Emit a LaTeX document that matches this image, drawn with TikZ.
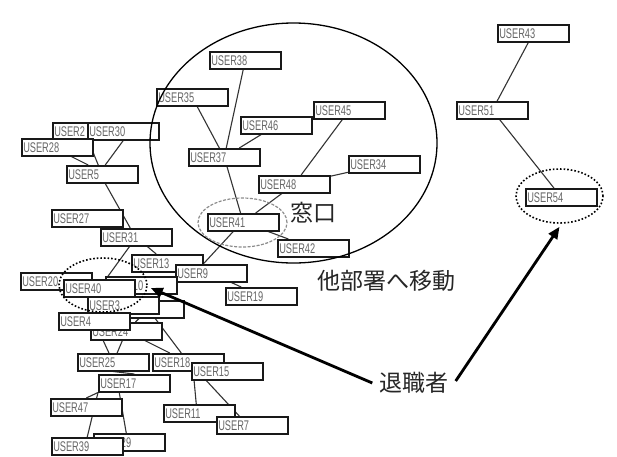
\documentclass[tikz,border=0pt]{standalone}
\usepackage{fontspec}
\setmainfont{Liberation Sans}
\newfontfamily\jpfont{Noto Sans CJK JP}
\usetikzlibrary{shapes.geometric,arrows.meta}
\pgfdeclarelayer{back}
\pgfdeclarelayer{bg}
\pgfsetlayers{back,bg,main}
\newcommand\ulab[1]{\scalebox{0.66}[1]{\fontsize{14}{14}\selectfont #1}}
\begin{document}
\begin{tikzpicture}[x=1pt,y=-1pt,
  ubox/.style={draw=black!90, line width=1.5pt, fill=white, anchor=north west,
    text width=68pt, inner xsep=1.5pt, inner ysep=0pt, minimum height=17pt,
    text=black!60, align=left},
  edge/.style={draw=black!80, line width=1.1pt},
  jp/.style={font=\jpfont\fontsize{23}{23}\selectfont, text=black!85, inner sep=1pt},
  dotring/.style={ellipse, draw=black, line width=1.6pt, dash pattern=on 1.6pt off 2pt, inner sep=0pt},
  bigarrow/.style={line width=2.8pt, -{Triangle[length=12pt,width=10pt]}}]
\useasboundingbox (0,0) rectangle (617,456);
\begin{pgfonlayer}{back}
\fill[white] (0,0) rectangle (617,456);
\end{pgfonlayer}

% boxes
\node[ubox] (u38) at (209,51) {\ulab{USER38}};
\node[ubox] (u35) at (156,88) {\ulab{USER35}};
\node[ubox] (u45) at (313,101) {\ulab{USER45}};
\node[ubox] (u46) at (240,116) {\ulab{USER46}};
\node[ubox] (u37) at (188,148) {\ulab{USER37}};
\node[ubox] (u34) at (348,155) {\ulab{USER34}};
\node[ubox] (u48) at (258,175) {\ulab{USER48}};
\node[ubox] (u41) at (207,213) {\ulab{USER41}};
\node[ubox] (u42) at (277,239) {\ulab{USER42}};
\node[ubox] (u43) at (497,24) {\ulab{USER43}};
\node[ubox] (u51) at (456,101) {\ulab{USER51}};
\node[ubox] (u54) at (525,188) {\ulab{USER54}};
\node[ubox] (u2) at (52,122) {\ulab{USER2}};
\node[ubox] (u30) at (87,122) {\ulab{USER30}};
\node[ubox] (u28) at (21,138) {\ulab{USER28}};
\node[ubox] (u5) at (66,165) {\ulab{USER5}};
\node[ubox] (u27) at (51,209) {\ulab{USER27}};
\node[ubox] (u31) at (100,228) {\ulab{USER31}};
\node[ubox] (u13) at (131,254) {\ulab{USER13}};
\node[ubox] (u9) at (175,264) {\ulab{USER9}};
\node[ubox] (u19) at (225,287) {\ulab{USER19}};
\node[ubox] (u20) at (20,272) {\ulab{USER20}};
\node[ubox] (u10) at (105,276) {\ulab{USER10}};
\node[ubox] (u40) at (63,279) {\ulab{USER40}};
\node[ubox] (u26) at (112,300) {};
\node[ubox] (u3) at (87,296) {\ulab{USER3}};
\node[ubox] (u24) at (90,322) {\ulab{USER24}};
\node[ubox] (u4) at (58,312) {\ulab{USER4}};
\node[ubox] (u25) at (77,353) {\ulab{USER25}};
\node[ubox] (u18) at (152,353) {\ulab{USER18}};
\node[ubox] (u15) at (191,362) {\ulab{USER15}};
\node[ubox] (u17) at (98,374) {\ulab{USER17}};
\node[ubox] (u47) at (50,398) {\ulab{USER47}};
\node[ubox] (u11) at (163,404) {\ulab{USER11}};
\node[ubox] (u7) at (216,416) {\ulab{USER7}};
\node[ubox] (u29) at (93,433) {\ulab{USER29}};
\node[ubox] (u39) at (51,437) {\ulab{USER39}};

% connectors
\begin{pgfonlayer}{bg}
\draw[edge] (u2.south) -- ([xshift=-4pt]u5.north);
\draw[edge] (u30.south) -- ([xshift=3pt]u5.north);
\draw[edge] ([xshift=14pt]u28.south) -- ([xshift=-14pt]u5.north);
\draw[edge] ([xshift=3pt]u5.south) -- ([xshift=-6pt]u31.north);
\draw[edge] (u31) -- (u40);
\draw[edge] (u31) -- (u13);
\draw[edge] ([xshift=-10pt]u41.south) -- ([xshift=-8pt]u9.north);
\draw[edge] (u9) -- (u19);
\draw[edge] (u37) -- (u38);
\draw[edge] (u37) -- (u35);
\draw[edge] (u37) -- (u46);
\draw[edge] (u37) -- (u41);
\draw[edge] (u48) -- (u41);
\draw[edge] (u48) -- (u45);
\draw[edge] (u48) -- (u34);
\draw[edge] (u41) -- (u42);
\draw[edge] (u43) -- (u51);
\draw[edge] (u51) -- (u54);
\draw[edge] (u26) -- (u24);
\draw[edge] (u26) -- (u18);
\draw[edge] (u24) -- (u18);
\draw[edge] (u24) -- (u25);
\draw[edge] (u4) -- (u25);
\draw[edge] (u25.south) -- (u17.north);
\draw[edge] (u17.south west) -- (u47.north);
\draw[edge] (u17.south west) -- (u39.north);
\draw[edge] ([xshift=-15pt]u17.south) -- ([xshift=-3pt]u29.north);
\draw[edge] ([xshift=5pt]u18.south) -- ([xshift=-3pt]u11.north);
\draw[edge] ([xshift=-21pt]u15.south) -- ([xshift=-13pt]u7.north);
\end{pgfonlayer}

% rings
\node[ellipse, draw=black, line width=1.3pt, minimum width=287pt, minimum height=240pt, inner sep=0pt] (big) at (293.5,143) {};
\node[ellipse, draw=black!45, line width=1.2pt, dash pattern=on 3pt off 1.5pt, minimum width=89pt, minimum height=49pt, inner sep=0pt] (e41) at (242.5,222.5) {};
\node[dotring, minimum width=88pt, minimum height=54pt] (e40) at (103,285) {};
\node[dotring, minimum width=87pt, minimum height=54pt] (e54) at (559.5,196) {};

% labels
\node[jp] (mado) at (313.5,212.5) {窓口};
\node[jp] (move) at (386.5,281) {他部署へ移動};
\node[jp] (ret) at (414,383) {退職者};

% arrows
\draw[bigarrow] ([xshift=-6pt]ret.west) -- ([xshift=3pt,yshift=-3pt]e40.east);
\draw[bigarrow] ([xshift=6pt,yshift=2pt]ret.east) -- ([yshift=-3pt]e54.south);
\end{tikzpicture}
\end{document}
